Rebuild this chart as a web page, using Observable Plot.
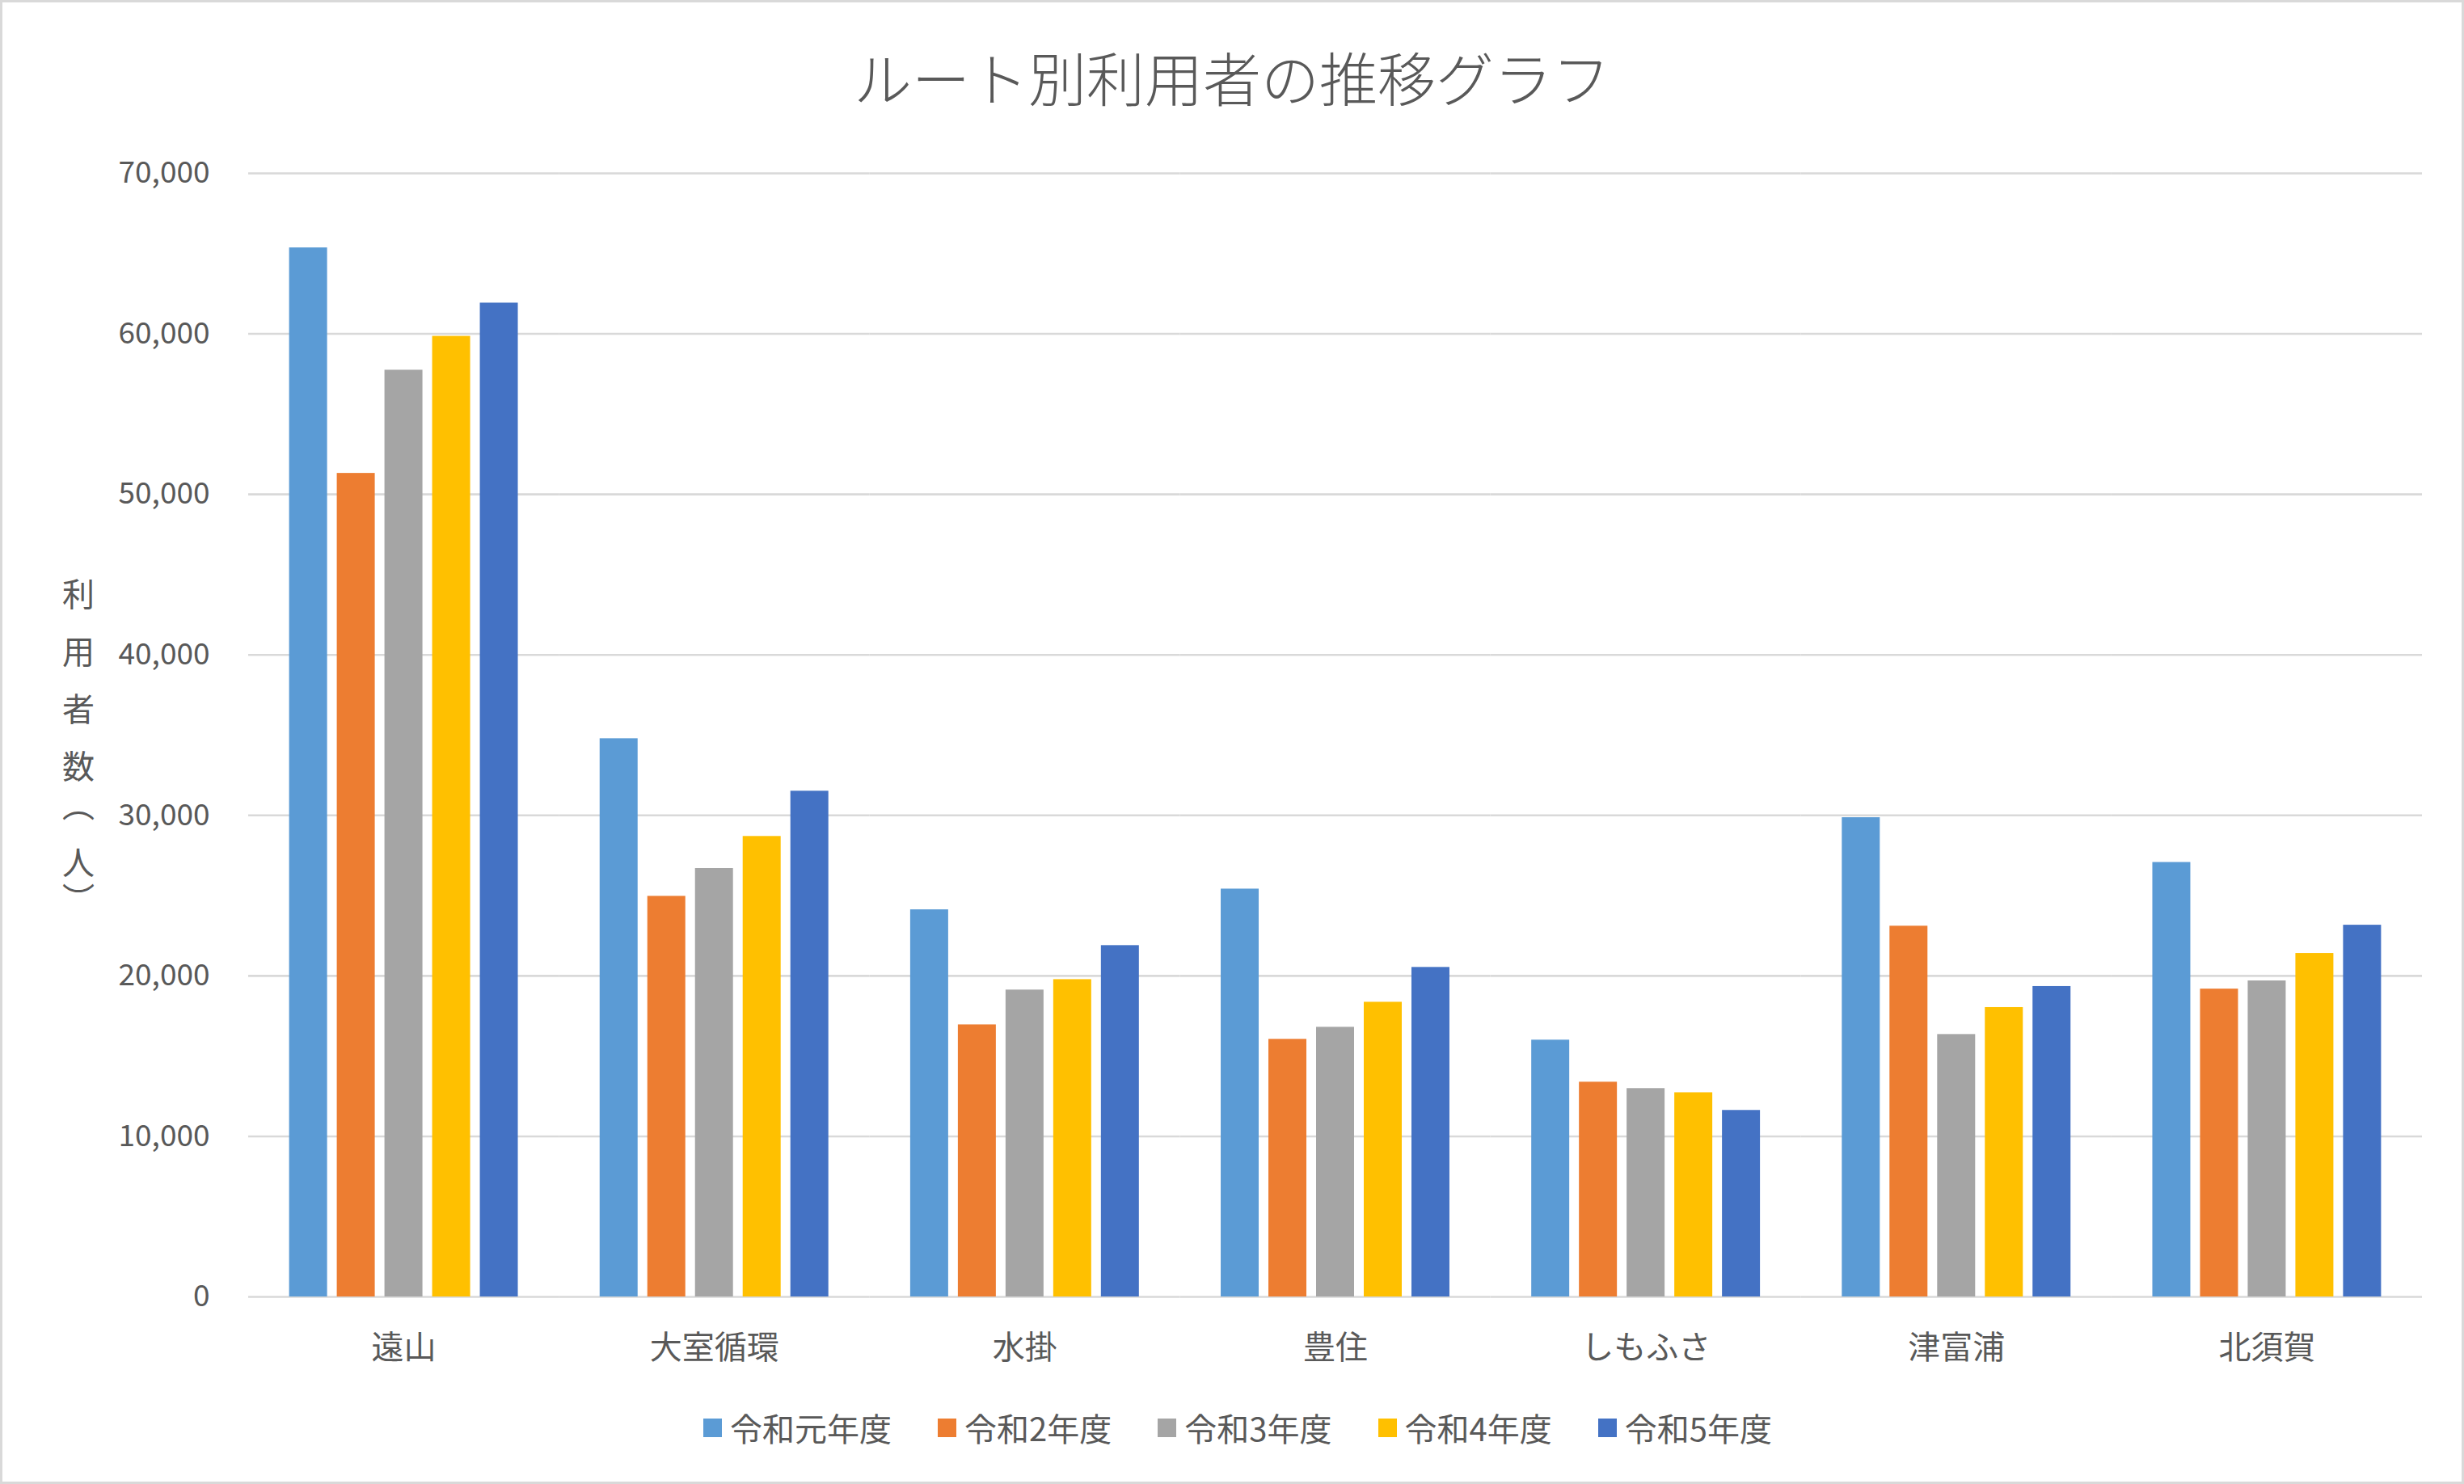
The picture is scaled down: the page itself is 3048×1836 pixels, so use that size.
<!DOCTYPE html>
<html><head><meta charset="utf-8">
<script src="https://cdn.jsdelivr.net/npm/d3@7"></script>
<script src="https://cdn.jsdelivr.net/npm/@observablehq/plot@0.6"></script>
<style>
html,body{margin:0;padding:0;background:#fff;}
#chart{position:relative;width:3048px;height:1836px;overflow:hidden;font-family:"Noto Sans CJK JP","Noto Sans",sans-serif;color:#595959;background:#fff;}
#title{position:absolute;left:0;width:100%;top:58px;text-align:center;font-size:72px;line-height:72px;font-weight:300;white-space:nowrap;}
#ylabel{position:absolute;left:77px;top:715px;writing-mode:vertical-rl;font-size:40px;line-height:40px;}
#ylabel .a{letter-spacing:31px;}
#ylabel .b{letter-spacing:8px;}
#ylabel .c{letter-spacing:31px;}
#ylabel .d{letter-spacing:5px;}
#plot{position:absolute;left:0;top:0;}
#legend{position:absolute;top:1744px;left:14px;width:3034px;height:44px;display:flex;justify-content:center;align-items:center;gap:57px;font-size:40px;line-height:44px;}
#legend .item{display:flex;align-items:center;}
#legend .sw{width:23px;height:23px;margin-right:10px;}
#border{position:absolute;left:0;top:0;width:3048px;height:1836px;box-sizing:border-box;border:3px solid #d9d9d9;pointer-events:none;}
</style>
</head>
<body>
<div id="chart">
  <div id="plot"></div>
  <div id="title">ルート別利用者の推移グラフ</div>
  <div id="ylabel"><span class="a">利用者</span><span class="b">数</span><span class="c">（</span><span class="d">人</span><span>）</span></div>
  <div id="legend"></div>
  <div id="border"></div>
</div>
<script>
const routes = ["遠山","大室循環","水掛","豊住","しもふさ","津富浦","北須賀"];
const years = ["令和元年度","令和2年度","令和3年度","令和4年度","令和5年度"];
const colors = ["#5B9BD5","#ED7D31","#A5A5A5","#FFC000","#4472C4"];
const r1 = [65360,34780,24120,25410,16000,29860,27070];
const r2 = [51310,24960,16950,16050,13380,23100,19180];
const r3 = [57740,26690,19120,16800,12980,16350,19690];
const r4 = [59850,28690,19770,18360,12720,18030,21400];
const r5 = [61920,31510,21890,20530,11620,19340,23160];
const yTicks = [0,10000,20000,30000,40000,50000,60000,70000];

const seriesValues = [r1,r2,r3,r4,r5];
const data = [];
routes.forEach((route,i) => {
  years.forEach((year,j) => {
    data.push({route, year, value: seriesValues[j][i]});
  });
});

const fontStack = '"Noto Sans CJK JP","Noto Sans",sans-serif';
const chart = Plot.plot({
  width: 3048,
  height: 1700,
  marginLeft: 307,
  marginRight: 52,
  marginTop: 214,
  marginBottom: 96,
  style: {background: "transparent", fontFamily: fontStack, color: "#595959"},
  fx: {domain: routes, padding: 0, round: false},
  x: {domain: years, paddingInner: 0.2034, paddingOuter: 0.858, axis: null, round: false},
  y: {domain: [0, 70000]},
  color: {domain: years, range: colors},
  marks: [
    Plot.ruleY(yTicks, {stroke: "#d9d9d9", strokeWidth: 2.6}),
    Plot.barY(data, {fx: "route", x: "year", y: "value", fill: "year"}),
    Plot.axisY(yTicks, {tickSize: 0, tickPadding: 48, fontSize: 37, tickFormat: d3.format(","), label: null}),
    Plot.axisFx({anchor: "bottom", tickSize: 0, tickPadding: 48, fontSize: 40, label: null})
  ]
});
document.getElementById("plot").appendChild(chart);

const legend = d3.select("#legend");
years.forEach((y,i) => {
  const item = legend.append("div").attr("class","item");
  item.append("div").attr("class","sw").style("background", colors[i]);
  item.append("span").text(y);
});
</script>
</body></html>
